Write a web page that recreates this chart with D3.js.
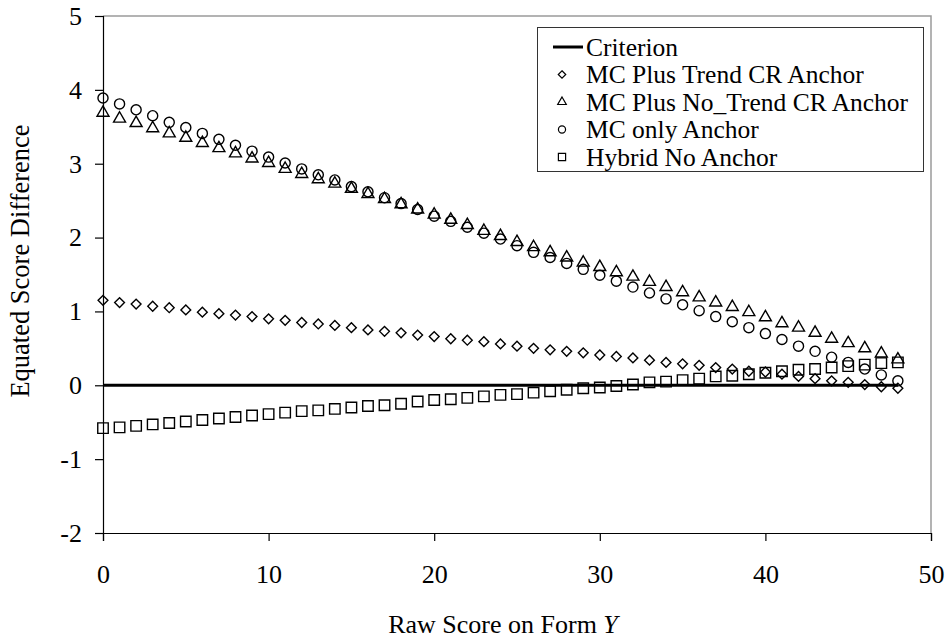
<!DOCTYPE html>
<html>
<head>
<meta charset="utf-8">
<script src="https://cdn.jsdelivr.net/npm/d3@7"></script>
<style>
  body { margin: 0; background: #fff; }
</style>
</head>
<body>
<div id="chart"></div>
<script>
// raw scores on form Y
const scores = [0,1,2,3,4,5,6,7,8,9,10,11,12,13,14,15,16,17,18,19,20,21,22,23,24,
  25,26,27,28,29,30,31,32,33,34,35,36,37,38,39,40,41,42,43,44,45,46,47,48]

const criterion = [0,0,0,0,0,0,0,0,0,0,0,0,0,0,0,0,0,0,0,0,0,0,0,0,0,
  0,0,0,0,0,0,0,0,0,0,0,0,0,0,0,0,0,0,0,0,0,0,0,0]

const mcTrend = [1.15,1.12,1.10,1.07,1.05,1.02,0.99,0.97,0.95,0.93,0.90,0.88,0.85,0.83,0.81,
  0.78,0.75,0.73,0.71,0.68,0.66,0.63,0.61,0.59,0.56,0.53,0.50,0.48,0.46,0.44,0.41,0.39,
  0.37,0.34,0.31,0.29,0.27,0.24,0.22,0.19,0.18,0.15,0.12,0.09,0.06,0.04,0.01,-0.02,-0.04]

const mcNoTrend = [3.69,3.61,3.55,3.48,3.41,3.35,3.28,3.21,3.14,3.07,3.01,2.93,2.86,2.79,2.73,
  2.66,2.59,2.52,2.45,2.38,2.31,2.24,2.17,2.09,2.02,1.94,1.87,1.80,1.73,1.66,1.60,1.53,
  1.47,1.40,1.33,1.26,1.19,1.12,1.06,0.99,0.92,0.84,0.78,0.71,0.63,0.57,0.50,0.43,0.35]

const mcOnly = [3.89,3.81,3.73,3.65,3.56,3.49,3.41,3.33,3.25,3.17,3.09,3.01,2.93,2.85,2.78,
  2.69,2.62,2.54,2.46,2.38,2.29,2.22,2.14,2.06,1.98,1.89,1.80,1.73,1.65,1.57,1.49,1.41,
  1.33,1.25,1.17,1.09,1.01,0.93,0.86,0.78,0.70,0.62,0.53,0.46,0.38,0.31,0.22,0.14,0.06]

const hybrid = [-0.58,-0.57,-0.55,-0.53,-0.51,-0.49,-0.47,-0.45,-0.43,-0.41,-0.39,-0.37,-0.35,
  -0.34,-0.32,-0.30,-0.28,-0.27,-0.25,-0.22,-0.20,-0.19,-0.17,-0.15,-0.13,-0.12,-0.10,-0.08,
  -0.06,-0.04,-0.03,-0.01,0.01,0.04,0.05,0.07,0.09,0.12,0.13,0.15,0.17,0.19,0.21,0.22,0.24,
  0.26,0.28,0.30,0.31]

const xTicks = [0, 10, 20, 30, 40, 50]
const yTicks = [-2, -1, 0, 1, 2, 3, 4, 5]

const legendLabels = ['Criterion', 'MC Plus Trend CR Anchor', 'MC Plus No_Trend CR Anchor',
  'MC only Anchor', 'Hybrid No Anchor']

const FONT = "'Liberation Serif', 'DejaVu Serif', serif"

// marker shapes, excel style
const diamond = { draw (ctx, size) {
  const r = Math.sqrt(size / 2)
  ctx.moveTo(0, -r); ctx.lineTo(r, 0); ctx.lineTo(0, r); ctx.lineTo(-r, 0); ctx.closePath()
} }

const series = [
  { values: mcTrend, type: diamond, size: 48, lsize: 28 },
  { values: mcNoTrend, type: d3.symbolTriangle, size: 62, lsize: 32 },
  { values: mcOnly, type: d3.symbolCircle, size: 80, lsize: 40 },
  { values: hybrid, type: d3.symbolSquare, size: 110, lsize: 52 }
]

const width = 948, height = 638
const svg = d3.select('#chart').append('svg')
  .attr('width', width)
  .attr('height', height)
  .attr('font-family', FONT)

const x = d3.scaleLinear().domain([0, 50]).range([103, 931])
const y = d3.scaleLinear().domain([-2, 5]).range([533, 16])

// top / right frame
svg.append('path')
  .attr('d', `M${x(0)},${y(5)}H${x(50)}V${y(-2)}`)
  .attr('fill', 'none')
  .attr('stroke', '#9a9a9a')
  .attr('stroke-width', 1.5)

const xAxis = svg.append('g')
  .attr('transform', `translate(0,${y(-2)})`)
  .call(d3.axisBottom(x).tickValues(xTicks).tickSize(8).tickPadding(24).tickFormat(d => String(d)))
const yAxis = svg.append('g')
  .attr('transform', `translate(${x(0)},0)`)
  .call(d3.axisLeft(y).tickValues(yTicks).tickSize(8).tickPadding(13).tickFormat(d => String(d)))

;[xAxis, yAxis].forEach(g => {
  g.attr('font-family', FONT).attr('font-size', 26)
  g.selectAll('path, line').attr('stroke', '#000').attr('stroke-width', 1.2)
  g.selectAll('text').attr('fill', '#000')
})

// criterion line
svg.append('path')
  .datum(scores)
  .attr('fill', 'none')
  .attr('stroke', '#000')
  .attr('stroke-width', 3)
  .attr('d', d3.line().x(d => x(d)).y((d, i) => y(criterion[i])))

series.forEach(s => {
  svg.append('g').selectAll('path')
    .data(scores)
    .enter()
    .append('path')
    .attr('transform', (d, i) => `translate(${x(d)},${y(s.values[i])})`)
    .attr('d', d3.symbol().type(s.type).size(s.size))
    .attr('fill', 'none')
    .attr('stroke', '#000')
    .attr('stroke-width', 1.4)
})

// axis titles
svg.append('text')
  .attr('x', 503)
  .attr('y', 633)
  .attr('text-anchor', 'middle')
  .attr('font-size', 26)
  .html('Raw Score on Form <tspan font-style="italic">Y</tspan>')

svg.append('text')
  .attr('transform', 'translate(29,261) rotate(-90)')
  .attr('text-anchor', 'middle')
  .attr('font-size', 26.5)
  .text('Equated Score Difference')

// legend
const legend = svg.append('g')
legend.append('rect')
  .attr('x', 537.5).attr('y', 27.5)
  .attr('width', 386).attr('height', 144)
  .attr('fill', '#fff')
  .attr('stroke', '#333')
  .attr('stroke-width', 1)

legendLabels.forEach((label, i) => {
  const cy = 47 + i * 27.5
  if (i === 0) {
    legend.append('line')
      .attr('x1', 553).attr('x2', 583)
      .attr('y1', cy).attr('y2', cy)
      .attr('stroke', '#000').attr('stroke-width', 3)
  } else {
    const s = series[i - 1]
    legend.append('path')
      .attr('transform', `translate(562,${cy})`)
      .attr('d', d3.symbol().type(s.type).size(s.lsize))
      .attr('fill', 'none')
      .attr('stroke', '#000')
      .attr('stroke-width', 1.2)
  }
  legend.append('text')
    .attr('x', 586)
    .attr('y', cy + 8.5)
    .attr('font-size', 25.5)
    .text(label)
})
</script>
</body>
</html>
